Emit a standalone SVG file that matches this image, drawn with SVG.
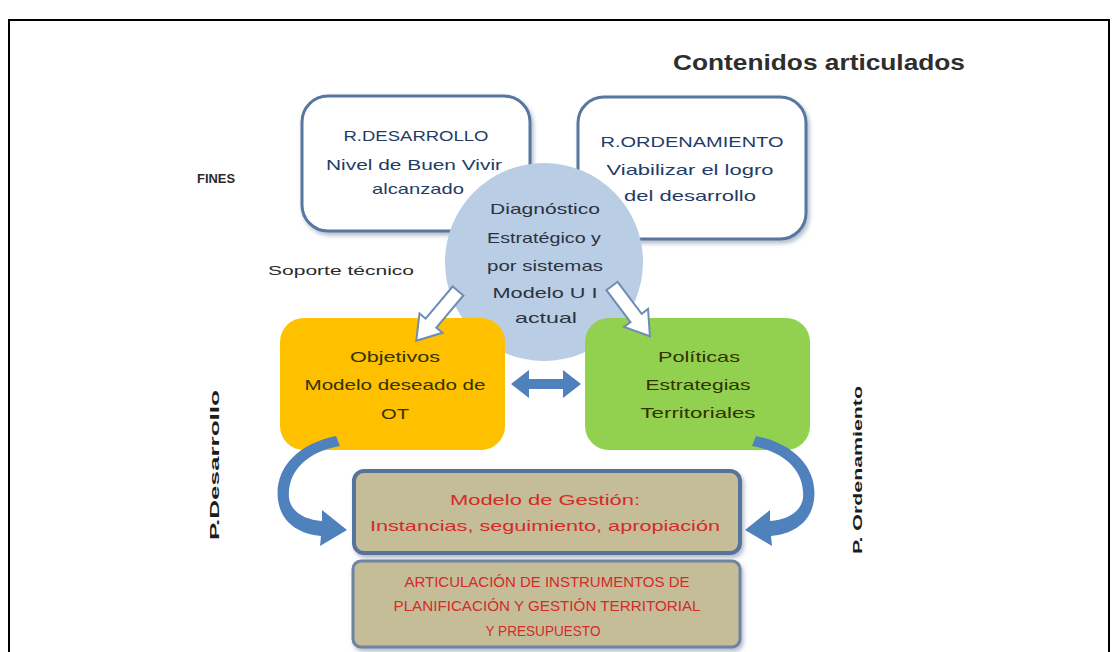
<svg xmlns="http://www.w3.org/2000/svg" width="1113" height="652" viewBox="0 0 1113 652">
  <defs>
    <filter id="sh" x="-10%" y="-10%" width="125%" height="130%">
      <feDropShadow dx="2" dy="3" stdDeviation="2" flood-color="#7f8fa6" flood-opacity="0.6"/>
    </filter>
    <style>
      text { font-family: "Liberation Sans", Arial, sans-serif; text-anchor: middle; }
      .fin { fill: #ffffff; stroke: #5877a0; stroke-width: 3; }
      .tf { fill: #1f3c68; font-size: 15px; }
      .tc { fill: #2b3340; font-size: 15px; }
      .tb { fill: #333300; font-size: 15px; }
      .tr { fill: #d42a2a; font-size: 15px; }
      .lab { fill: #2a2a2a; font-size: 13px; }
      .vlab { fill: #1c1c1c; font-size: 13px; font-weight: bold; }
      .hol { fill: #ffffff; stroke: #6f8cb3; stroke-width: 2; }
      .blue { fill: #4f81bd; }
    </style>
  </defs>

  <rect x="9" y="20" width="1100" height="650" fill="#ffffff" stroke="#000000" stroke-width="2"/>

  <g id="title">
    <text x="819" y="70" font-size="22" font-weight="bold" fill="#2e2e2e" textLength="292" lengthAdjust="spacingAndGlyphs">Contenidos articulados</text>
  </g>

  <g id="fines-label"><text class="lab" x="216" y="183" font-weight="bold" textLength="38" lengthAdjust="spacingAndGlyphs">FINES</text></g>
  <g id="soporte-label"><text class="lab" x="341" y="275" textLength="146" lengthAdjust="spacingAndGlyphs">Soporte técnico</text></g>

  <g id="r-desarrollo">
    <rect class="fin" x="302" y="96" width="228" height="135" rx="26" filter="url(#sh)"/>
    <text class="tf" x="416" y="141" textLength="145" lengthAdjust="spacingAndGlyphs">R.DESARROLLO</text>
    <text class="tf" x="414" y="170" textLength="176" lengthAdjust="spacingAndGlyphs">Nivel de Buen Vivir</text>
    <text class="tf" x="418" y="194" font-size="12" textLength="92" lengthAdjust="spacingAndGlyphs">alcanzado</text>
  </g>

  <g id="r-ordenamiento">
    <rect class="fin" x="578" y="97" width="228" height="142" rx="26" filter="url(#sh)"/>
    <text class="tf" x="692" y="147" textLength="183" lengthAdjust="spacingAndGlyphs">R.ORDENAMIENTO</text>
    <text class="tf" x="690" y="175" textLength="167" lengthAdjust="spacingAndGlyphs">Viabilizar el logro</text>
    <text class="tf" x="690" y="201" font-size="14" textLength="132" lengthAdjust="spacingAndGlyphs">del desarrollo</text>
  </g>

  <g id="diagnostico">
    <circle cx="544" cy="262" r="99" fill="#b9cde5"/>
    <text class="tc" x="545" y="214" textLength="110" lengthAdjust="spacingAndGlyphs">Diagnóstico</text>
    <text class="tc" x="544" y="243" textLength="114" lengthAdjust="spacingAndGlyphs">Estratégico y</text>
    <text class="tc" x="545" y="271" textLength="116" lengthAdjust="spacingAndGlyphs">por sistemas</text>
    <text class="tc" x="545" y="298" textLength="105" lengthAdjust="spacingAndGlyphs">Modelo U I</text>
    <text class="tc" x="546" y="323" font-size="12" textLength="62" lengthAdjust="spacingAndGlyphs">actual</text>
  </g>

  <g id="objetivos">
    <rect x="280" y="318" width="225" height="132" rx="24" fill="#ffc000"/>
    <text class="tb" x="395" y="362" textLength="90" lengthAdjust="spacingAndGlyphs">Objetivos</text>
    <text class="tb" x="395" y="390" textLength="181" lengthAdjust="spacingAndGlyphs">Modelo deseado de</text>
    <text class="tb" x="395" y="419" textLength="28" lengthAdjust="spacingAndGlyphs">OT</text>
  </g>

  <g id="politicas">
    <rect x="585" y="318" width="225" height="132" rx="24" fill="#92d050"/>
    <text class="tb" x="699" y="362" textLength="82" lengthAdjust="spacingAndGlyphs">Políticas</text>
    <text class="tb" x="698" y="390" textLength="105" lengthAdjust="spacingAndGlyphs">Estrategias</text>
    <text class="tb" x="698" y="418" textLength="115" lengthAdjust="spacingAndGlyphs">Territoriales</text>
  </g>

  <g id="gestion">
    <rect x="354" y="471" width="386" height="82" rx="10" fill="#c4bd97" stroke="#56739b" stroke-width="4" filter="url(#sh)"/>
    <text class="tr" x="545" y="505" textLength="190" lengthAdjust="spacingAndGlyphs">Modelo de Gestión:</text>
    <text class="tr" x="545" y="531" textLength="350" lengthAdjust="spacingAndGlyphs">Instancias, seguimiento, apropiación</text>
  </g>

  <g id="instrumentos">
    <rect x="353" y="561" width="387" height="86" rx="8" fill="#c4bd97" stroke="#6d84a3" stroke-width="3" filter="url(#sh)"/>
    <text class="tr" x="547" y="587" textLength="285" lengthAdjust="spacingAndGlyphs">ARTICULACIÓN DE INSTRUMENTOS DE</text>
    <text class="tr" x="547" y="611" textLength="307" lengthAdjust="spacingAndGlyphs">PLANIFICACIÓN Y GESTIÓN TERRITORIAL</text>
    <text class="tr" x="543" y="636" textLength="115" lengthAdjust="spacingAndGlyphs">Y PRESUPUESTO</text>
  </g>

  <g id="p-desarrollo"><text class="vlab" transform="translate(219,465) rotate(-90)" textLength="150" lengthAdjust="spacingAndGlyphs">P.Desarrollo</text></g>
  <g id="p-ordenamiento"><text class="vlab" transform="translate(862,470) rotate(-90)" textLength="168" lengthAdjust="spacingAndGlyphs">P. Ordenamiento</text></g>

  <g id="connectors">
    <path class="hol" transform="translate(458,291) rotate(130)" d="M0,-7 L42,-7 L42,-15 L65,0 L42,15 L42,7 L0,7 Z"/>
    <path class="hol" transform="translate(612,286) rotate(53)" d="M0,-7 L40,-7 L40,-15 L63,0 L40,15 L40,7 L0,7 Z"/>
    <path class="blue" d="M511,384 L529,370 L529,379 L563,379 L563,370 L581,384 L563,398 L563,389 L529,389 L529,398 Z"/>
    <path class="blue" d="M336,436 C296,444 274,470 278,500 C281,522 298,534 321,536 L320,546 L347,530 L322,510 L322,521 C305,520 291,512 289,498 C287,472 306,452 340,446 Z"/>
    <path class="blue" d="M756,436 C796,444 818,470 814,500 C811,522 794,534 771,536 L772,546 L745,530 L770,510 L770,521 C787,520 801,512 803,498 C805,472 786,452 752,446 Z"/>
  </g>
</svg>
